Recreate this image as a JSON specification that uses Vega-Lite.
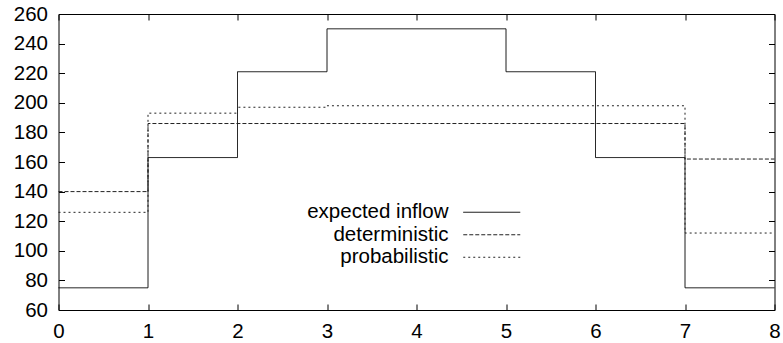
{
  "$schema": "https://vega.github.io/schema/vega-lite/v6.json",
  "width": 716,
  "height": 296,
  "autosize": {"type": "none"},
  "padding": {"left": 58.5, "top": 14, "right": 8.5, "bottom": 33},
  "background": "white",
  "config": {
    "font": "Liberation Sans",
    "view": {"stroke": "black", "strokeWidth": 1},
    "axis": {
      "grid": false,
      "domain": false,
      "tickColor": "black",
      "tickSize": -6,
      "tickWidth": 1,
      "labelColor": "black",
      "labelFont": "Liberation Sans",
      "labelFontSize": 20.5,
      "title": null
    },
    "legend": {
      "labelFont": "Liberation Sans",
      "labelFontSize": 20.5,
      "labelColor": "black"
    }
  },
  "data": {
    "values": [
      {"series": "expected inflow", "x": 0, "y": 75},
      {"series": "expected inflow", "x": 1, "y": 163},
      {"series": "expected inflow", "x": 2, "y": 221},
      {"series": "expected inflow", "x": 3, "y": 250},
      {"series": "expected inflow", "x": 4, "y": 250},
      {"series": "expected inflow", "x": 5, "y": 221},
      {"series": "expected inflow", "x": 6, "y": 163},
      {"series": "expected inflow", "x": 7, "y": 75},
      {"series": "expected inflow", "x": 8, "y": 75},
      {"series": "deterministic", "x": 0, "y": 140},
      {"series": "deterministic", "x": 1, "y": 186},
      {"series": "deterministic", "x": 2, "y": 186},
      {"series": "deterministic", "x": 3, "y": 186},
      {"series": "deterministic", "x": 4, "y": 186},
      {"series": "deterministic", "x": 5, "y": 186},
      {"series": "deterministic", "x": 6, "y": 186},
      {"series": "deterministic", "x": 7, "y": 162},
      {"series": "deterministic", "x": 8, "y": 162},
      {"series": "probabilistic", "x": 0, "y": 126},
      {"series": "probabilistic", "x": 1, "y": 193},
      {"series": "probabilistic", "x": 2, "y": 197},
      {"series": "probabilistic", "x": 3, "y": 198},
      {"series": "probabilistic", "x": 4, "y": 198},
      {"series": "probabilistic", "x": 5, "y": 198},
      {"series": "probabilistic", "x": 6, "y": 198},
      {"series": "probabilistic", "x": 7, "y": 112},
      {"series": "probabilistic", "x": 8, "y": 112}
    ]
  },
  "resolve": {"axis": {"x": "independent", "y": "independent"}},
  "layer": [
    {
      "mark": {"type": "line", "interpolate": "step-after", "strokeWidth": 1},
      "encoding": {
        "x": {
          "field": "x", "type": "quantitative",
          "scale": {"domain": [0, 8], "nice": false, "zero": false},
          "axis": {"orient": "bottom", "values": [0,1,2,3,4,5,6,7,8], "format": "d", "labelPadding": 17, "labelFlush": false}
        },
        "y": {
          "field": "y", "type": "quantitative",
          "scale": {"domain": [60, 260], "nice": false, "zero": false},
          "axis": {"orient": "left", "values": [60,80,100,120,140,160,180,200,220,240,260], "format": "d", "labelPadding": 17, "labelFlush": false, "labelBaseline": "middle"}
        },
        "color": {
          "field": "series", "type": "nominal",
          "scale": {"domain": ["expected inflow", "deterministic", "probabilistic"], "range": ["#000000", "#222222", "#222222"]},
          "legend": {
            "title": null,
            "orient": "none",
            "legendX": 423,
            "legendY": 188,
            "symbolType": "M-3,0H3",
            "symbolSize": 361,
            "symbolStrokeWidth": 1,
            "labelAlign": "right",
            "labelOffset": -53.5,
            "rowPadding": 1.5,
            "labelLimit": 400
          }
        },
        "strokeDash": {
          "field": "series", "type": "nominal",
          "scale": {"domain": ["expected inflow", "deterministic", "probabilistic"], "range": [[1, 0], [4, 2], [2, 3]]},
          "legend": {
            "title": null,
            "orient": "none",
            "legendX": 423,
            "legendY": 188,
            "symbolType": "M-3,0H3",
            "symbolSize": 361,
            "symbolStrokeWidth": 1,
            "labelAlign": "right",
            "labelOffset": -53.5,
            "rowPadding": 1.5,
            "labelLimit": 400
          }
        }
      }
    },
    {
      "mark": {"type": "line", "interpolate": "step-after", "strokeWidth": 1, "opacity": 0},
      "encoding": {
        "x": {
          "field": "x", "type": "quantitative",
          "scale": {"domain": [0, 8], "nice": false, "zero": false},
          "axis": {"orient": "top", "values": [0,1,2,3,4,5,6,7,8], "labels": false}
        },
        "y": {
          "field": "y", "type": "quantitative",
          "scale": {"domain": [60, 260], "nice": false, "zero": false},
          "axis": {"orient": "right", "values": [60,80,100,120,140,160,180,200,220,240,260], "labels": false}
        },
        "detail": {"field": "series", "type": "nominal"}
      }
    }
  ]
}
